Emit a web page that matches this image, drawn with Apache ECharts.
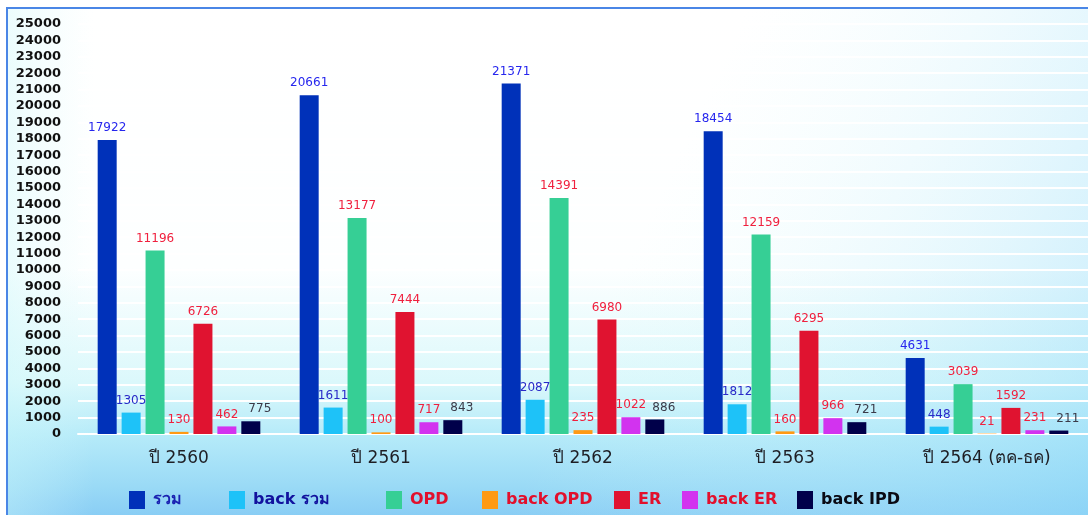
<!DOCTYPE html>
<html>
<head>
<meta charset="utf-8">
<script src="https://cdn.jsdelivr.net/npm/echarts@6/dist/echarts.min.js"></script>
<style>
  html, body { margin: 0; padding: 0; background: #ffffff; }
  #chart { width: 1088px; height: 515px; }
</style>
</head>
<body>
<div id="chart"></div>
<script>
// Yearly counts by service type
const categories = ['ปี 2560', 'ปี 2561', 'ปี 2562', 'ปี 2563', 'ปี 2564 (ตค-ธค)'];
const seriesNames = ['รวม', 'back รวม', 'OPD', 'back OPD', 'ER', 'back ER', 'back IPD'];

const totalAll   = [17922, 20661, 21371, 18454, 4631];
const backTotal  = [1305, 1611, 2087, 1812, 448];
const opd        = [11196, 13177, 14391, 12159, 3039];
const backOpd    = [130, 100, 235, 160, 21];
const er         = [6726, 7444, 6980, 6295, 1592];
const backEr     = [462, 717, 1022, 966, 231];
const backIpd    = [775, 843, 886, 721, 211];

const yTicks = { min: 0, max: 25000, interval: 1000 };

// Styling per series: bar fill, value label colour, legend text colour
const barColors    = ['#0031b9', '#1ec2f8', '#36cf95', '#ff9a14', '#e01330', '#d233ef', '#00004a'];
const labelColors  = ['#2626ee', '#2a2ac8', '#f0203e', '#f0203e', '#f0203e', '#f0203e', '#3a3a48'];
const legendColors = ['#1a22b2', '#12129e', '#e2102c', '#e2102c', '#e2102c', '#e2102c', '#0a0a14'];
const legendLeft   = [129, 229, 386, 482, 614, 682, 797];
const labelShift   = [0, 0, 0, 0, 0, 0, 9];

const seriesData = [totalAll, backTotal, opd, backOpd, er, backEr, backIpd];

const chart = echarts.init(document.getElementById('chart'), null, { renderer: 'canvas' });

const series = seriesNames.map((name, i) => ({
  name: name,
  type: 'bar',
  data: seriesData[i],
  barWidth: 19,
  barGap: '26%',
  itemStyle: { color: barColors[i] },
  label: {
    show: true,
    position: 'top',
    distance: 6,
    offset: [labelShift[i], 0],
    color: labelColors[i],
    fontSize: 12,
    fontFamily: 'DejaVu Sans, sans-serif'
  }
}));

const legends = seriesNames.map((name, i) => ({
  data: [name],
  left: legendLeft[i],
  top: 491,
  padding: 0,
  itemWidth: 16,
  itemHeight: 18,
  itemGap: 0,
  icon: 'rect',
  selectedMode: false,
  textStyle: {
    color: legendColors[i],
    fontSize: 16,
    fontWeight: 'bold',
    fontFamily: 'DejaVu Sans, sans-serif',
    padding: [0, 0, 0, 3]
  }
}));

chart.setOption({
  animation: false,
  graphic: [
    {
      type: 'rect',
      z: -10,
      silent: true,
      shape: { x: 6, y: 8, width: 1100, height: 520 },
      style: {
        fill: new echarts.graphic.LinearGradient(0, 0, 0, 1, [
          { offset: 0, color: '#ffffff' },
          { offset: 0.5, color: '#fdffff' },
          { offset: 0.72, color: '#dbf8fb' },
          { offset: 0.82, color: '#b6ebf9' },
          { offset: 0.92, color: '#9adaf6' },
          { offset: 1, color: '#82c8f4' }
        ])
      }
    },
    {
      type: 'rect',
      z: -9,
      silent: true,
      shape: { x: 6, y: 8, width: 1100, height: 520 },
      style: {
        fill: new echarts.graphic.LinearGradient(0, 0, 1, 1, [
          { offset: 0, color: 'rgba(220,250,252,0)' },
          { offset: 0.55, color: 'rgba(220,250,252,0)' },
          { offset: 1, color: 'rgba(140,215,248,0.55)' }
        ])
      }
    },
    {
      type: 'rect',
      z: -9,
      silent: true,
      shape: { x: 6, y: 8, width: 1100, height: 520 },
      style: {
        fill: new echarts.graphic.LinearGradient(0, 0, 1, 0, [
          { offset: 0, color: 'rgba(205,248,250,0.4)' },
          { offset: 0.08, color: 'rgba(220,250,252,0)' },
          { offset: 1, color: 'rgba(220,250,252,0)' }
        ])
      }
    },
    {
      type: 'line',
      z: -8,
      silent: true,
      shape: { x1: 6, y1: 8, x2: 1100, y2: 8 },
      style: { stroke: '#4a86e6', lineWidth: 2 }
    },
    {
      type: 'line',
      z: -8,
      silent: true,
      shape: { x1: 7, y1: 8, x2: 7, y2: 520 },
      style: { stroke: '#4a86e6', lineWidth: 2 }
    }
  ],
  grid: { left: 78, top: 24, width: 1015, height: 410, containLabel: false },
  legend: legends,
  xAxis: {
    type: 'category',
    data: categories,
    axisLine: { show: true, lineStyle: { color: '#ffffff', width: 2 } },
    axisTick: { show: false },
    axisLabel: {
      color: '#1e1e24',
      fontSize: 17,
      margin: 16,
      fontFamily: 'DejaVu Sans, sans-serif'
    }
  },
  yAxis: {
    type: 'value',
    min: yTicks.min,
    max: yTicks.max,
    interval: yTicks.interval,
    axisLine: { show: false },
    axisTick: { show: false },
    splitLine: { show: true, lineStyle: { color: '#ffffff', width: 2 } },
    axisLabel: {
      color: '#111111',
      fontSize: 13,
      fontWeight: 'bold',
      margin: 17,
      fontFamily: 'DejaVu Sans, sans-serif',
      formatter: v => String(v)
    }
  },
  series: series
});
</script>
</body>
</html>
